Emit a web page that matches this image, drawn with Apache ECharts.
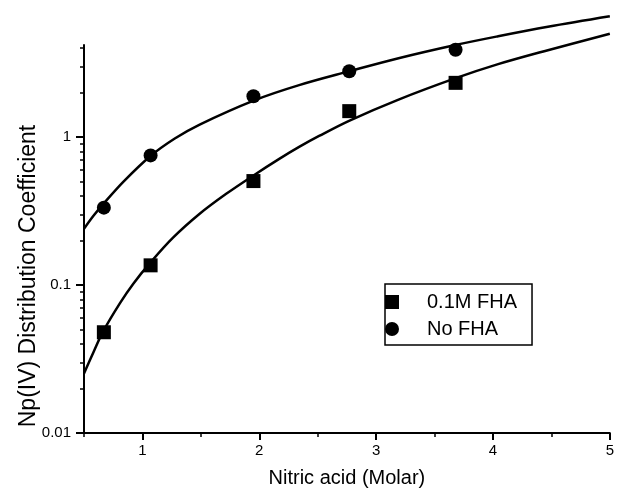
<!DOCTYPE html>
<html>
<head>
<meta charset="utf-8">
<script src="https://cdn.jsdelivr.net/npm/echarts@6/dist/echarts.min.js"></script>
<style>
html,body{margin:0;padding:0;background:#fff;}
#c{width:617px;height:493px;}
</style>
</head>
<body>
<div id="c"></div>
<script>
// ---- data ----
var pointX = [0.67, 1.07, 1.95, 2.77, 3.68];
var fhaValues = [0.048, 0.136, 0.505, 1.50, 2.33];     // 0.1M FHA (squares)
var noFhaValues = [0.334, 0.753, 1.89, 2.79, 3.90];    // No FHA (circles)

// fitted curves
var fhaCurveX = [0.5, 0.581, 0.666, 0.808, 0.922, 1.064, 1.262, 1.49, 1.717, 1.944, 2.171, 2.341, 2.512, 2.773, 3.192, 3.669, 4.044, 4.47, 5.0];
var fhaCurveY = [0.0253, 0.0352, 0.0490, 0.0756, 0.1023, 0.1407, 0.2091, 0.3034, 0.414, 0.547, 0.713, 0.859, 1.019, 1.296, 1.796, 2.488, 3.116, 3.873, 5.005];

var noFhaCurveX = [0.5, 0.581, 0.666, 0.836, 1.064, 1.277, 1.49, 1.952, 2.341, 2.773, 3.192, 3.669, 4.044, 4.47, 5.0];
var noFhaCurveY = [0.240, 0.294, 0.354, 0.499, 0.741, 0.980, 1.218, 1.768, 2.249, 2.795, 3.420, 4.185, 4.813, 5.578, 6.566];

var xMajorTicks = [1, 2, 3, 4, 5];
var xMinorTicks = [0.5, 1.5, 2.5, 3.5, 4.5];
var yMajorTicks = [0.01, 0.1, 1];
var yMinorTicks = [0.02,0.03,0.04,0.05,0.06,0.07,0.08,0.09,0.2,0.3,0.4,0.5,0.6,0.7,0.8,0.9,2,3,4];

var seriesNames = ['0.1M FHA', 'No FHA'];
var xTitle = 'Nitric acid (Molar)';
var yTitle = 'Np(IV) Distribution Coefficient';

function zip(a, b) { return a.map(function (v, i) { return [v, b[i]]; }); }

var FONT = '"Liberation Sans", Arial, sans-serif';
var chart = echarts.init(document.getElementById('c'), null, {renderer: 'canvas'});

chart.setOption({
  animation: false,
  backgroundColor: '#fff',
  grid: {left: 84, right: 5, top: 45, bottom: 59},
  legend: {
    data: [{name: seriesNames[0], icon: 'path://M0 0H10V10H0Z'}, {name: seriesNames[1], icon: 'circle'}],
    orient: 'vertical',
    left: 385, top: 284,
    padding: [8, 15, 6, 0],
    itemWidth: 60, itemHeight: 14, itemGap: 7,
    borderColor: '#000', borderWidth: 1.5,
    textStyle: {fontFamily: FONT, fontSize: 20, color: '#000', lineHeight: 20},
    selectedMode: false
  },
  xAxis: [{
    type: 'value', min: 0.5, max: 5, position: 'bottom',
    name: xTitle, nameLocation: 'middle', nameGap: 35,
    nameTextStyle: {fontFamily: FONT, fontSize: 20, color: '#000'},
    axisLine: {onZero: false, lineStyle: {color: '#000', width: 2}},
    axisTick: {show: true, customValues: xMajorTicks, length: 7, lineStyle: {color: '#000', width: 2}},
    axisLabel: {customValues: xMajorTicks, fontFamily: FONT, fontSize: 15, color: '#000', margin: 10},
    splitLine: {show: false}
  }, {
    type: 'value', min: 0.5, max: 5, position: 'bottom',
    axisLine: {show: false, onZero: false},
    axisTick: {show: true, customValues: xMinorTicks, length: 4, lineStyle: {color: '#000', width: 1.5}},
    axisLabel: {show: false},
    splitLine: {show: false}
  }],
  yAxis: [{
    type: 'log', logBase: 10, min: 0.01, max: 4.2, position: 'left',
    axisLine: {onZero: false, lineStyle: {color: '#000', width: 2}},
    axisTick: {show: true, customValues: yMajorTicks, length: 8, lineStyle: {color: '#000', width: 2}},
    axisLabel: {customValues: yMajorTicks, fontFamily: FONT, fontSize: 15, color: '#000', margin: 13,
      formatter: function (v) { return String(+v.toPrecision(6)); }},
    splitLine: {show: false}
  }, {
    type: 'log', logBase: 10, min: 0.01, max: 4.2, position: 'left',
    axisLine: {show: false, onZero: false},
    axisTick: {show: true, customValues: yMinorTicks, length: 4, lineStyle: {color: '#000', width: 1.5}},
    axisLabel: {show: false},
    splitLine: {show: false}
  }],
  graphic: [{
    type: 'text', x: 29, y: 276, rotation: Math.PI / 2,
    style: {text: yTitle, font: '23px ' + FONT, fill: '#000', align: 'center', verticalAlign: 'middle'}
  }],
  series: [{
    name: 'fhaCurve', type: 'line', data: zip(fhaCurveX, fhaCurveY), smooth: 0.35,
    showSymbol: false, clip: false, lineStyle: {color: '#000', width: 2.5}, silent: true
  }, {
    name: 'noFhaCurve', type: 'line', data: zip(noFhaCurveX, noFhaCurveY), smooth: 0.35,
    showSymbol: false, clip: false, lineStyle: {color: '#000', width: 2.5}, silent: true
  }, {
    name: seriesNames[0], type: 'scatter', data: zip(pointX, fhaValues), symbol: 'rect', symbolSize: 14,
    itemStyle: {color: '#000', opacity: 1}, z: 5
  }, {
    name: seriesNames[1], type: 'scatter', data: zip(pointX, noFhaValues), symbol: 'circle', symbolSize: 14,
    itemStyle: {color: '#000', opacity: 1}, z: 5
  }]
});
</script>
</body>
</html>
